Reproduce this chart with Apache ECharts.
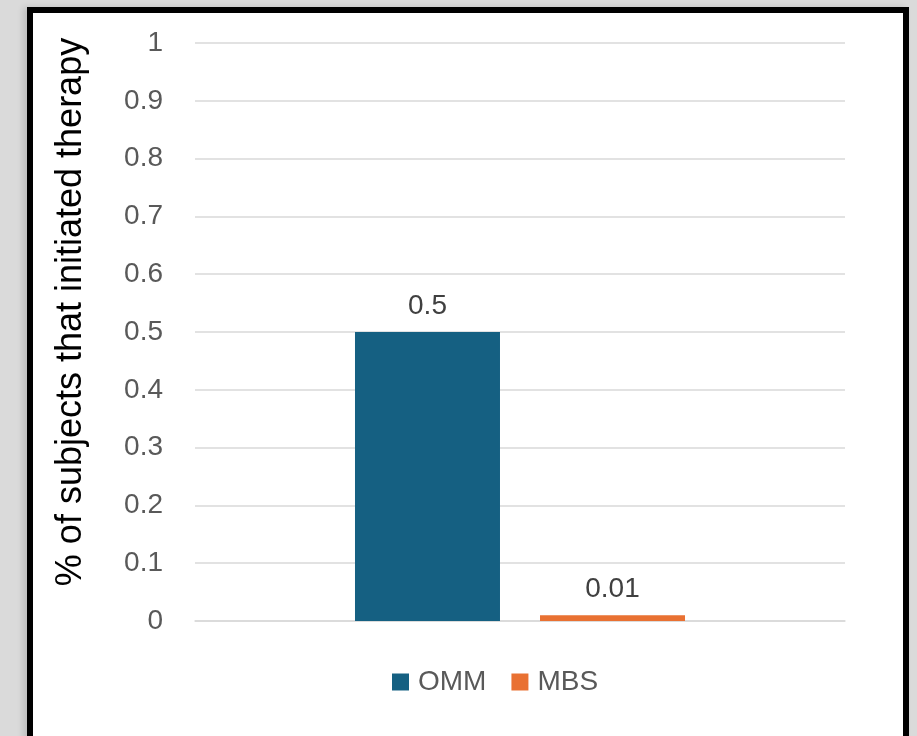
<!DOCTYPE html>
<html>
<head>
<meta charset="utf-8">
<script src="https://cdn.jsdelivr.net/npm/echarts@6/dist/echarts.min.js"></script>
<style>
  html, body { margin: 0; padding: 0; width: 917px; height: 736px; overflow: hidden; background: #dadada; }
  #frame { position: absolute; left: 27px; top: 7px; width: 882px; height: 760px; box-sizing: border-box; border: 6px solid #000; background: #fff; box-shadow: -4px 0 6px rgba(0,0,0,0.12); }
  #chart { position: absolute; left: 0; top: 0; width: 917px; height: 736px; }
</style>
</head>
<body>
<div id="frame"></div>
<div id="chart"></div>
<script>
const categories = ['Group'];
const seriesNames = ['OMM', 'MBS'];
const ommValues = [0.5];
const mbsValues = [0.01];
const yTicks = { min: 0, max: 1, interval: 0.1 };
const yAxisTitle = '% of subjects that initiated therapy';

const chart = echarts.init(document.getElementById('chart'), null, { renderer: 'canvas' });
const font = 'Liberation Sans, Arial, sans-serif';
chart.setOption({
  animation: false,
  backgroundColor: 'transparent',
  grid: { left: 195, right: 72, top: 43, bottom: 115, containLabel: false },
  legend: {
    data: seriesNames,
    bottom: 35,
    left: 387,
    itemWidth: 17,
    itemHeight: 17,
    itemGap: 25,
    icon: 'rect',
    textStyle: { fontFamily: font, fontSize: 28, color: '#595959', padding: [0, 0, 0, 4] }
  },
  xAxis: {
    type: 'category',
    data: categories,
    axisLine: { show: true, lineStyle: { color: '#d9d9d9', width: 1.5 } },
    axisTick: { show: false },
    axisLabel: { show: false }
  },
  yAxis: {
    type: 'value',
    min: yTicks.min,
    max: yTicks.max,
    interval: yTicks.interval,
    name: yAxisTitle,
    nameLocation: 'middle',
    nameGap: 106,
    nameTextStyle: { fontFamily: font, fontSize: 36, color: '#000', padding: [0, 0, 0, 40] },
    axisLine: { show: false },
    axisTick: { show: false },
    axisLabel: { fontFamily: font, fontSize: 28, color: '#595959', margin: 32 },
    splitLine: { lineStyle: { color: '#d9d9d9', width: 1.5 } }
  },
  series: [
    {
      name: seriesNames[0],
      type: 'bar',
      data: ommValues,
      barWidth: 145,
      barGap: '27.6%',
      itemStyle: { color: '#156082' },
      label: { show: true, position: 'top', distance: 12, fontFamily: font, fontSize: 28, color: '#404040' }
    },
    {
      name: seriesNames[1],
      type: 'bar',
      data: mbsValues,
      barWidth: 145,
      itemStyle: { color: '#E97132' },
      label: { show: true, position: 'top', distance: 12, fontFamily: font, fontSize: 28, color: '#404040' }
    }
  ]
});
</script>
</body>
</html>
